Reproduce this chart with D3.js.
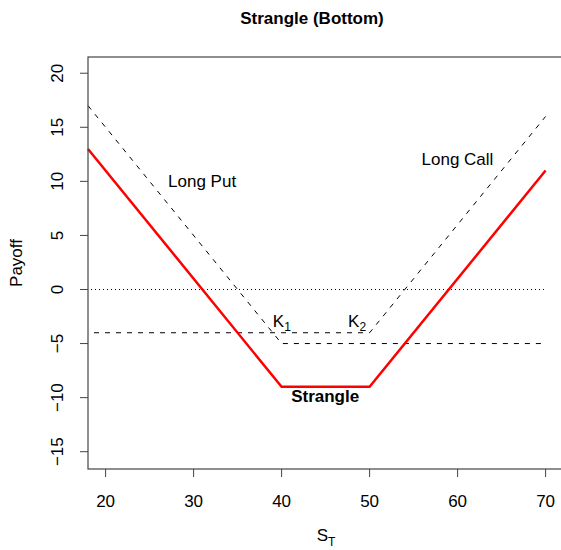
<!DOCTYPE html>
<html>
<head>
<meta charset="utf-8">
<script src="https://cdn.jsdelivr.net/npm/d3@7"></script>
<style>
  body { margin: 0; background: #fff; }
  text { font-family: "Liberation Sans", Arial, sans-serif; }
</style>
</head>
<body>
<div id="chart"></div>
<script>
// strike prices and option premiums
var strikes = [40, 50];
var premiums = [5, 4];

// stock price breakpoints for each payoff line
var putS = [18, 40, 70];
var putPayoff = [17, -5, -5];
var callS = [18, 50, 70];
var callPayoff = [-4, -4, 16];
var strangleS = [18, 40, 50, 70];
var stranglePayoff = [13, -9, -9, 11];

var xTicks = [20, 30, 40, 50, 60, 70];
var yTicks = [-15, -10, -5, 0, 5, 10, 15, 20];

var svg = d3.select('#chart').append('svg')
  .attr('width', 561)
  .attr('height', 550)
  .style('display', 'block');

// plot box runs off the right edge of the picture, as in the original
var margin = { top: 57, right: -5, bottom: 81, left: 88 },
  width = 561 - margin.left - margin.right,
  height = 550 - margin.top - margin.bottom;

var pxPerUnit = 8.8;
var x = d3.scaleLinear().domain([18, 18 + width / pxPerUnit]).range([0, width]);
var y = d3.scaleLinear().domain([-16.6, 21.5]).range([height, 0]);

var g = svg.append('g')
  .attr('transform', 'translate(' + margin.left + ',' + margin.top + ')');

function toPts(xs, ys) {
  return xs.map(function(d, i) { return [d, ys[i]]; });
}

var line = d3.line()
  .x(function(d) { return x(d[0]); })
  .y(function(d) { return y(d[1]); });

// zero line
g.append('path')
  .datum([[18, 0], [70, 0]])
  .attr('d', line)
  .attr('fill', 'none')
  .attr('stroke', '#000')
  .attr('stroke-width', 1)
  .attr('stroke-dasharray', '1,3')
  .attr('stroke-dashoffset', -3);

// long put and long call
g.append('path')
  .datum(toPts(putS, putPayoff))
  .attr('d', line)
  .attr('fill', 'none')
  .attr('stroke', '#000')
  .attr('stroke-width', 1)
  .attr('stroke-dasharray', '5,6');

g.append('path')
  .datum(toPts(callS, callPayoff))
  .attr('d', line)
  .attr('fill', 'none')
  .attr('stroke', '#000')
  .attr('stroke-width', 1)
  .attr('stroke-dasharray', '5,6')
  .attr('stroke-dashoffset', 5);

// strangle
g.append('path')
  .datum(toPts(strangleS, stranglePayoff))
  .attr('d', line)
  .attr('fill', 'none')
  .attr('stroke', '#ff0000')
  .attr('stroke-width', 2.5);

// box
g.append('rect')
  .attr('x', 0).attr('y', 0)
  .attr('width', width).attr('height', height)
  .attr('fill', 'none')
  .attr('stroke', '#444')
  .attr('stroke-width', 1.2);

// axes
var xAxis = g.append('g')
  .attr('transform', 'translate(0,' + height + ')');
xAxis.selectAll('line').data(xTicks).enter().append('line')
  .attr('x1', function(d) { return x(d); })
  .attr('x2', function(d) { return x(d); })
  .attr('y1', 0).attr('y2', 8)
  .attr('stroke', '#444');
xAxis.selectAll('text').data(xTicks).enter().append('text')
  .attr('x', function(d) { return x(d); })
  .attr('y', 38)
  .attr('text-anchor', 'middle')
  .attr('font-size', '17px')
  .text(function(d) { return d; });

var yAxis = g.append('g');
yAxis.selectAll('line').data(yTicks).enter().append('line')
  .attr('x1', -8).attr('x2', 0)
  .attr('y1', function(d) { return y(d); })
  .attr('y2', function(d) { return y(d); })
  .attr('stroke', '#444');
yAxis.selectAll('text').data(yTicks).enter().append('text')
  .attr('transform', function(d) {
    return 'translate(-31,' + y(d) + ') rotate(-90)';
  })
  .attr('text-anchor', 'middle')
  .attr('dy', '0.35em')
  .attr('font-size', '17px')
  .text(function(d) { return d < 0 ? '\u2212' + Math.abs(d) : d; });

// titles
svg.append('text')
  .attr('x', 312).attr('y', 24)
  .attr('text-anchor', 'middle')
  .attr('font-size', '17px')
  .attr('font-weight', 'bold')
  .text('Strangle (Bottom)');

svg.append('text')
  .attr('transform', 'translate(22,' + (margin.top + height / 2) + ') rotate(-90)')
  .attr('text-anchor', 'middle')
  .attr('font-size', '17px')
  .text('Payoff');

var xl = svg.append('text')
  .attr('x', 326).attr('y', 541)
  .attr('text-anchor', 'middle')
  .attr('font-size', '17px');
xl.append('tspan').text('S');
xl.append('tspan').attr('font-size', '12px').attr('dy', 5).text('T');

// annotations
g.append('text')
  .attr('x', x(27.1)).attr('y', y(9.5))
  .attr('font-size', '17px')
  .text('Long Put');

g.append('text')
  .attr('x', x(55.9)).attr('y', y(11.5))
  .attr('font-size', '17px')
  .text('Long Call');

var k1 = g.append('text')
  .attr('x', x(strikes[0] - 1)).attr('y', y(-3.45))
  .attr('font-size', '17px');
k1.append('tspan').text('K');
k1.append('tspan').attr('font-size', '12px').attr('dy', 4).text('1');

var k2 = g.append('text')
  .attr('x', x(strikes[1] - 2.45)).attr('y', y(-3.45))
  .attr('font-size', '17px');
k2.append('tspan').text('K');
k2.append('tspan').attr('font-size', '12px').attr('dy', 4).text('2');

g.append('text')
  .attr('x', x(44.95)).attr('y', y(-10.45))
  .attr('text-anchor', 'middle')
  .attr('font-size', '17px')
  .attr('font-weight', 'bold')
  .text('Strangle');
</script>
</body>
</html>
